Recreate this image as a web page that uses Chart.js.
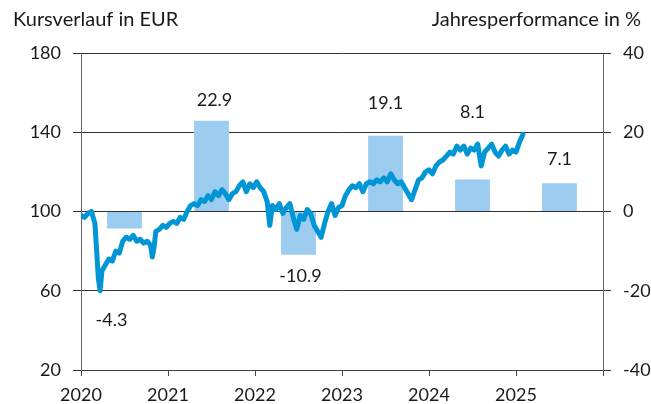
<!DOCTYPE html>
<html>
<head>
<meta charset="utf-8">
<script src="https://cdn.jsdelivr.net/npm/chart.js@4/dist/chart.umd.min.js"></script>
<style>
  html, body { margin: 0; padding: 0; background: #fff; }
  #wrap { width: 651px; height: 404px; }
</style>
</head>
<body>
<div id="wrap"><canvas id="chart" width="651" height="404"></canvas></div>
<script>
// Jahresperformance (rechte Achse, %)
const jahre = [2020, 2021, 2022, 2023, 2024, 2025];
const performance = [-4.3, 22.9, -10.9, 19.1, 8.1, 7.1];

// Kursverlauf (linke Achse, EUR) - Zeitpunkte als Jahresbruchteil
const zeit = [
  2020.00, 2020.04, 2020.08, 2020.12, 2020.16, 2020.18, 2020.20, 2020.22, 2020.24, 2020.28,
  2020.32, 2020.36, 2020.40, 2020.44, 2020.48, 2020.52, 2020.56, 2020.60, 2020.64, 2020.68,
  2020.72, 2020.76, 2020.80, 2020.82, 2020.84, 2020.86, 2020.90, 2020.94, 2020.98,
  2021.02, 2021.06, 2021.10, 2021.14, 2021.18, 2021.22, 2021.26, 2021.30, 2021.34, 2021.38,
  2021.42, 2021.46, 2021.50, 2021.54, 2021.58, 2021.62, 2021.66, 2021.70, 2021.74, 2021.78,
  2021.82, 2021.86, 2021.90, 2021.94, 2021.98,
  2022.02, 2022.06, 2022.10, 2022.14, 2022.17, 2022.20, 2022.24, 2022.28, 2022.32, 2022.36,
  2022.40, 2022.44, 2022.48, 2022.52, 2022.56, 2022.60, 2022.64, 2022.68, 2022.72, 2022.76,
  2022.80, 2022.84, 2022.88, 2022.92, 2022.96,
  2023.00, 2023.04, 2023.08, 2023.12, 2023.16, 2023.20, 2023.24, 2023.28, 2023.32, 2023.36,
  2023.40, 2023.44, 2023.48, 2023.52, 2023.56, 2023.60, 2023.64, 2023.68, 2023.72, 2023.76,
  2023.80, 2023.84, 2023.88, 2023.92, 2023.96,
  2024.00, 2024.04, 2024.08, 2024.12, 2024.16, 2024.20, 2024.24, 2024.28, 2024.32, 2024.36,
  2024.40, 2024.44, 2024.48, 2024.52, 2024.56, 2024.60, 2024.64, 2024.68, 2024.72, 2024.76,
  2024.80, 2024.84, 2024.88, 2024.92, 2024.96,
  2025.00, 2025.04, 2025.08
];
const kurs = [
  98, 97, 99, 100, 94, 80, 66, 60, 70, 73,
  76, 75, 80, 79, 85, 87, 86, 88, 85, 86,
  84, 85, 83, 77, 82, 90, 91, 93, 92,
  94, 95, 94, 97, 96, 100, 103, 104, 103, 106,
  105, 108, 106, 110, 108, 111, 109, 106, 109, 110,
  113, 115, 110, 114, 112,
  115, 112, 110, 105, 93, 103, 101, 104, 99, 102,
  104, 97, 91, 98, 96, 101, 99, 93, 90, 87,
  94, 100, 104, 98, 102,
  103, 108, 111, 113, 112, 114, 110, 114, 115, 114,
  116, 115, 117, 115, 119, 116, 114, 115, 112, 109,
  106, 111, 116, 117, 120,
  121, 119, 123, 125, 126, 128, 130, 129, 133, 131,
  133, 129, 132, 131, 134, 123, 130, 132, 134, 130,
  128, 131, 133, 129, 131,
  130, 135, 139
];

const FONT = "Lato, 'Open Sans', sans-serif";
const TEXT = "#1a1a1a";

// Beschriftung der Balken: Versatz [dx, Abstand vom Balkenende]
const labelVersatz = [[-13, 92], [3, 21], [2, 21], [0, 33], [0, 67], [0, 24]];

const balkenLabels = {
  id: "balkenLabels",
  afterDatasetsDraw(chart) {
    const meta = chart.getDatasetMeta(1);
    const ctx = chart.ctx;
    ctx.save();
    ctx.font = "18px " + FONT;
    ctx.fillStyle = TEXT;
    ctx.textAlign = "center";
    ctx.textBaseline = "middle";
    meta.data.forEach((el, i) => {
      const v = performance[i];
      const [dx, d] = labelVersatz[i];
      const y = v >= 0 ? el.y - d : el.y + d;
      ctx.fillText(v.toFixed(1), el.x + dx, y);
    });
    ctx.restore();
  }
};

const achsenTitel = {
  id: "achsenTitel",
  afterDraw(chart) {
    const ctx = chart.ctx;
    ctx.save();
    ctx.font = "20px " + FONT;
    ctx.fillStyle = TEXT;
    ctx.textBaseline = "middle";
    ctx.textAlign = "left";
    ctx.fillText("Kursverlauf in EUR", 13, 20);
    ctx.textAlign = "right";
    ctx.fillText("Jahresperformance in %", 641, 20);
    ctx.restore();
  }
};

new Chart(document.getElementById("chart"), {
  type: "bar",
  data: {
    datasets: [
      {
        type: "line",
        label: "Kurs",
        data: zeit.map((t, i) => ({ x: t, y: kurs[i] })),
        yAxisID: "y",
        borderColor: "#0096d6",
        borderWidth: 5,
        borderJoinStyle: "round",
        borderCapStyle: "round",
        pointRadius: 0,
        tension: 0,
        order: 0
      },
      {
        type: "bar",
        label: "Jahresperformance",
        data: jahre.map((j, i) => ({ x: j + 0.5, y: performance[i] })),
        yAxisID: "y2",
        backgroundColor: "#9ccdf0",
        barPercentage: 0.4,
        categoryPercentage: 1,
        order: 1
      }
    ]
  },
  options: {
    responsive: false,
    animation: false,
    devicePixelRatio: 1,
    layout: { padding: { top: 53, left: 0, right: 0, bottom: 0 } },
    plugins: { legend: { display: false }, tooltip: { enabled: false } },
    scales: {
      x: {
        type: "linear",
        min: 2020,
        max: 2026,
        offset: false,
        grid: { drawOnChartArea: false, offset: false, tickLength: 6, color: "#444" },
        border: { color: "#444" },
        ticks: {
          stepSize: 1,
          autoSkip: false,
          maxRotation: 0,
          padding: 8,
          color: TEXT,
          font: { family: FONT, size: 18 },
          callback: v => (v < 2026 ? String(v) : "")
        },
        afterFit: s => { s.height = 34; }
      },
      y: {
        position: "left",
        min: 20,
        max: 180,
        grid: { tickLength: 8, color: "#333" },
        border: { color: "#666" },
        ticks: { stepSize: 40, padding: 12, color: TEXT, font: { family: FONT, size: 18 } },
        afterFit: s => { s.width = 81; }
      },
      y2: {
        position: "right",
        min: -40,
        max: 40,
        grid: { drawOnChartArea: false, tickLength: 8, color: "#333" },
        border: { color: "#666" },
        ticks: { stepSize: 20, padding: 12, color: TEXT, font: { family: FONT, size: 18 } },
        afterFit: s => { s.width = 48; }
      }
    }
  },
  plugins: [balkenLabels, achsenTitel]
});
</script>
</body>
</html>
